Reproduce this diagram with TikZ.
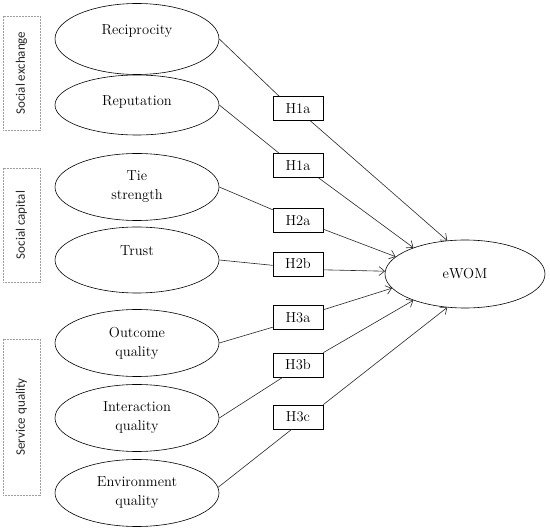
\documentclass[tikz,border=0pt]{standalone}
\usepackage{fontspec}
\newfontfamily\groupfont{Carlito}
\usetikzlibrary{shapes.geometric,arrows.meta,positioning}

\begin{document}
\begin{tikzpicture}[x=1pt,y=-1pt,
    construct/.style={ellipse,draw,line width=0.6pt,minimum width=164pt,minimum height=67pt,
        inner sep=0pt,align=center,font=\fontsize{14.5}{19}\selectfont},
    oneline/.style={text depth=18pt},
    hyp/.style={draw,fill=white,line width=0.6pt,minimum width=50pt,minimum height=24pt,
        inner sep=0pt,font=\fontsize{14.5}{17}\selectfont},
    group/.style={draw=gray!75,line width=0.7pt,dash pattern=on 1pt off 0.5pt,rotate=90,
        minimum height=37pt,inner sep=0pt,text=black!85,font=\groupfont\fontsize{13}{16}\selectfont},
    link/.style={line width=0.6pt,black!85},
    effect/.style={link,-{Straight Barb[length=5.5pt,width=9pt]}}]
    \useasboundingbox (0,0) rectangle (550,529);

    % Groups
    \node[group,minimum width=114pt] (sx) at (21.5,73) {Social exchange};
    \node[group,minimum width=114pt] (sc) at (21.5,225) {Social capital};
    \node[group,minimum width=156pt] (sq) at (21.5,417) {Service quality};

    % Constructs
    \node[construct,oneline,minimum height=71pt] (rec) at (137,39) {Reciprocity};
    \node[construct,text depth=8pt,minimum height=60pt] (rep) at (137,105) {Reputation};
    \node[construct] (tie) at (137,187) {Tie\\strength};
    \node[construct,oneline,minimum height=66pt] (trust) at (137,260) {Trust};
    \node[construct] (outq) at (137,343) {Outcome\\quality};
    \node[construct] (intq) at (137,418) {Interaction\\quality};
    \node[construct] (envq) at (137,493) {Environment\\quality};

    \node[construct,minimum width=160pt,minimum height=68pt] (ewom) at (465,274) {eWOM};

    % Hypotheses
    \foreach \name/\y/\txt in {h1a/108.5/H1a,h1b/165.5/H1a,h2a/220.5/H2a,h2b/264/H2b,
                               h3a/317.5/H3a,h3b/365/H3b,h3c/417/H3c}
        \node[hyp] (\name) at (298,\y) {\txt};

    % Paths
    \foreach \src/\hin/\hout/\tip in {rec.east/h1a.147/h1a.315/118,rep.east/h1b.147/h1b.329/153,
                                      tie.east/h2a.157/h2a.341/166,trust.east/h2b.183/h2b.347/178,
                                      outq.east/h3a.201/h3a.17/191,intq.east/h3b.219/h3b.26/207,
                                      envq.4/h3c.243/h3c.26/242} {
        \draw[link] (\src) -- (\hin);
        \draw[effect] (\hout) -- (ewom.\tip);
    }
\end{tikzpicture}
\end{document}
